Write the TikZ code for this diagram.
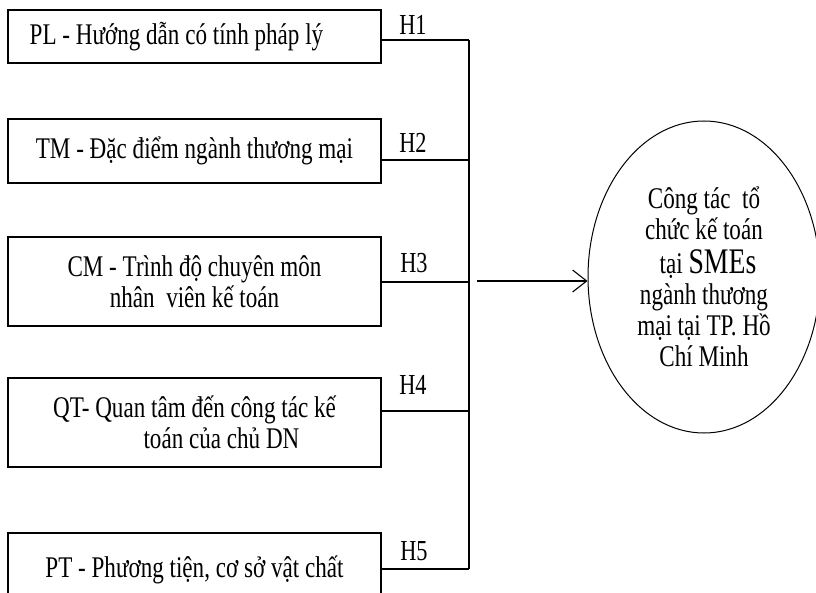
\documentclass[tikz,border=0pt]{standalone}
\usepackage{fontspec}
\setmainfont{Liberation Serif}[FakeStretch=0.77]
\usetikzlibrary{arrows.meta,shapes.geometric}

\newcommand\tightlines{\lineskiplimit -60pt\relax}

\tikzset{
  factor/.style={draw, line width=1.1pt, minimum width=373pt, inner sep=0pt,
    align=center, font=\fontsize{30}{31}\selectfont\tightlines},
  hlabel/.style={inner sep=0pt, font=\fontsize{29}{30}\selectfont},
  wire/.style={line width=1.1pt},
  goalbox/.style={draw, ellipse, line width=1pt, minimum width=232pt,
    minimum height=312pt, inner sep=0pt, align=center,
    font=\fontsize{30}{31}\selectfont\tightlines}
}

\begin{document}
\begin{tikzpicture}[x=1pt,y=-1pt]
      \useasboundingbox (0,0) rectangle (816,593);
      % factors
      \node [factor, minimum height=53pt] (pl) at (194.5,36.5)
        {PL - Hướng dẫn có tính pháp lý\hspace*{36pt}};
      \node [factor, minimum height=64pt] (tm) at (194.5,151)
        {TM - Đặc điểm ngành thương mại};
      \node [factor, minimum height=89pt] (cm) at (194.5,281.5)
        {CM - Trình độ chuyên môn\\nhân~ viên kế toán};
      \node [factor, minimum height=89pt] (qt) at (194.5,422.5)
        {QT- Quan tâm đến công tác kế\\\hspace*{54pt}toán của chủ DN};
      \node [factor, minimum height=74pt] (pt) at (194.5,570)
        {PT - Phương tiện, cơ sở vật chất};
      % hypotheses
      \node [hlabel] (h1) at (413,25) {H1};
      \node [hlabel] (h2) at (413,143) {H2};
      \node [hlabel] (h3) at (414,263) {H3};
      \node [hlabel] (h4) at (413,385) {H4};
      \node [hlabel] (h5) at (414,551) {H5};
      % bus
      \coordinate (j1) at (469,40);
      \coordinate (j2) at (469,160);
      \coordinate (j3) at (469,282);
      \coordinate (j4) at (469,411);
      \coordinate (j5) at (469,569);
      \draw [wire] (pl.east |- j1) -- (j1);
      \draw [wire] (tm.east |- j2) -- (j2);
      \draw [wire] (cm.east |- j3) -- (j3);
      \draw [wire] (qt.east |- j4) -- (j4);
      \draw [wire] (pt.east |- j5) -- (j5);
      \draw [wire] (j1) -- (j5);
      % outcome
      \node [goalbox] (goal) at (704,277)
        {Công tác~ tổ\\chức kế toán\\[3pt]\hspace*{8pt}tại {\fontsize{36}{31}\selectfont SMEs}\\ngành thương\\mại tại TP. Hồ\\Chí Minh};
      \coordinate (a0) at (477,281);
      \draw [wire, -{Straight Barb[length=14pt,width=22pt,line width=1.1pt]}] (a0) -- (a0 -| goal.west);
\end{tikzpicture}
\end{document}
